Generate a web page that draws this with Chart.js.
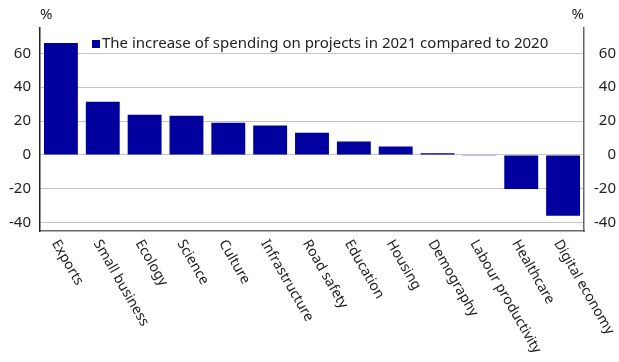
<!DOCTYPE html>
<html>
<head>
<meta charset="utf-8">
<script src="https://cdn.jsdelivr.net/npm/chart.js@4"></script>
<style>
  html, body { margin: 0; padding: 0; background: #fff; }
  #wrap { width: 619px; height: 362px; }
</style>
</head>
<body>
<div id="wrap"><canvas id="spendChart" width="619" height="362"></canvas></div>
<script>
const categories = ['Exports', 'Small business', 'Ecology', 'Science', 'Culture', 'Infrastructure',
    'Road safety', 'Education', 'Housing', 'Demography', 'Labour productivity', 'Healthcare', 'Digital economy'];
const increase = [66.2, 31.4, 23.7, 23.1, 19.0, 17.3, 13.1, 7.9, 4.9, 0.9, -0.2, -20.2, -36.0];
const seriesName = 'The increase of spending on projects in 2021 compared to 2020';
const gridValues = [-40, -30, -20, -10, 0, 10, 20, 30, 40, 50, 60, 70];
const axisMin = -45;
const axisMax = 75;

const FONT = '"Noto Sans", "Open Sans", sans-serif';
const BAR_COLOR = '#00009E';
const LABEL_ANGLE = 60;

// legend swatch, unit marks above both y axes, slanted category names
const extraText = {
    id: 'extraText',
    afterDraw(chart) {
        const ctx = chart.ctx;
        const area = chart.chartArea;
        ctx.save();
        ctx.fillStyle = '#222';
        ctx.font = '15px ' + FONT;
        ctx.textBaseline = 'middle';
        ctx.textAlign = 'left';
        ctx.fillText('%', area.left, 15);
        ctx.textAlign = 'right';
        ctx.fillText('%', area.right, 15);

        // legend inside the plot
        const ds = chart.data.datasets[0];
        ctx.fillStyle = ds.backgroundColor;
        ctx.fillRect(92, 40, 8, 8);
        ctx.fillStyle = '#222';
        ctx.textAlign = 'left';
        ctx.fillText(ds.label, 102, 44);

        ctx.font = '14px ' + FONT;
        const xScale = chart.scales.x;
        categories.forEach((name, i) => {
            const x = xScale.getPixelForTick(i);
            ctx.save();
            ctx.translate(x - 6, area.bottom + 10);
            ctx.rotate(LABEL_ANGLE * Math.PI / 180);
            ctx.fillText(name, 0, 0);
            ctx.restore();
        });
        ctx.restore();
    }
};

const fixedTicks = scale => {
    scale.ticks = gridValues.map(v => ({ value: v }));
};

new Chart(document.getElementById('spendChart'), {
    type: 'bar',
    data: {
        labels: categories,
        datasets: [{
            label: seriesName,
            data: increase,
            backgroundColor: BAR_COLOR,
            borderWidth: 0,
            barPercentage: 0.81,
            categoryPercentage: 1,
            yAxisID: 'y'
        }]
    },
    options: {
        responsive: false,
        animation: false,
        layout: { padding: { top: 28, right: 3, left: 0, bottom: 0 } },
        plugins: {
            tooltip: { enabled: false },
            legend: { display: false }
        },
        scales: {
            x: {
                grid: { display: false, drawTicks: false },
                border: { display: true, color: '#666', width: 1.5 },
                ticks: { display: false },
                afterFit(scale) { scale.height = 131; }
            },
            y: {
                position: 'left',
                min: axisMin,
                max: axisMax,
                afterBuildTicks: fixedTicks,
                ticks: {
                    padding: 9,
                    color: '#222',
                    font: { family: FONT, size: 15 },
                    callback: v => (v % 20 === 0 ? v : '')
                },
                grid: { drawTicks: false, color: '#c4c4c4', lineWidth: 1 },
                border: { display: true, color: '#222', width: 1.5 },
                afterFit(scale) { scale.width = 40; }
            },
            y2: {
                position: 'right',
                min: axisMin,
                max: axisMax,
                afterBuildTicks: fixedTicks,
                ticks: {
                    padding: 9,
                    crossAlign: 'far',
                    color: '#222',
                    font: { family: FONT, size: 15 },
                    callback: v => (v % 20 === 0 ? v : '')
                },
                grid: { display: false, drawTicks: false },
                border: { display: true, color: '#666', width: 1.5 },
                afterFit(scale) { scale.width = 32; }
            }
        }
    },
    plugins: [extraText]
});
</script>
</body>
</html>
